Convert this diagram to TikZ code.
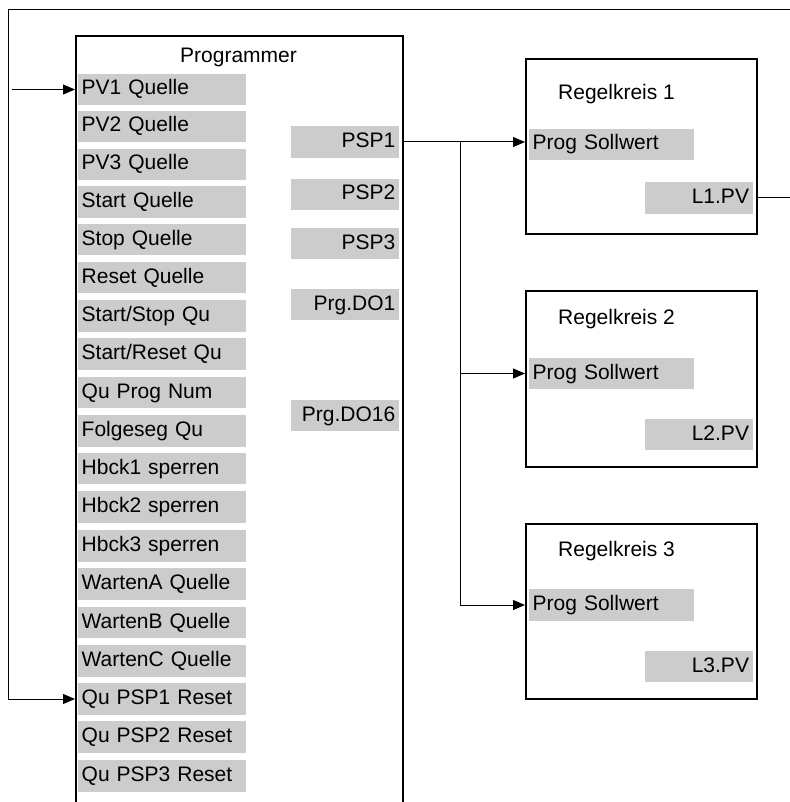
\documentclass[tikz,border=0pt]{standalone}
\usepackage{fontspec}
\setmainfont{Liberation Sans}
\usepackage{xcolor}
\usepackage{tikz}
\usetikzlibrary{arrows.meta, positioning}
\definecolor{cellgray}{RGB}{204,204,204}
\tikzset{
	cell/.style={fill=cellgray, minimum height=31.5pt, text height=15pt, text depth=4pt, inner xsep=3.5pt, inner ysep=0pt, font=\fontsize{21}{25}\selectfont},
	incell/.style={cell, anchor=west, text width=161pt, align=left},
	outcell/.style={cell, anchor=east, text width=101pt, align=right},
	setcell/.style={cell, anchor=west, text width=158pt, align=left},
	pvcell/.style={cell, anchor=east, text width=100.7pt, align=right},
	block/.style={draw, line width=2pt, anchor=north west, inner sep=0pt},
	head/.style={anchor=base, inner sep=0pt, font=\fontsize{21}{25}\selectfont},
	wire/.style={line width=1pt},
	sig/.style={wire, -{Triangle[length=12pt, width=10pt]}},
}

\begin{document}
\begin{tikzpicture}[x=1pt, y=-1pt]
				\useasboundingbox (0,0) rectangle (789,802);
				% Blocks and titles:
				\node[block, minimum width=327pt, minimum height=800pt](N0) at (75,35){};
				\node[head](T0) at (238.5,63){Programmer};
				\node[block, minimum width=230.7pt, minimum height=175pt](L1) at (525,58){};
				\node[block, minimum width=230.7pt, minimum height=176pt](L2) at (525,290){};
				\node[block, minimum width=230.7pt, minimum height=175pt](L3) at (525,522.5){};
				\node[head, anchor=base west](T1) at (558,100){Regelkreis 1};
				\node[head, anchor=base west](T2) at (558,324){Regelkreis 2};
				\node[head, anchor=base west](T3) at (558,556){Regelkreis 3};
				% Programmer inputs:
				\node[incell](I1) at (78,89.5){PV1 Quelle};
				\node[incell](I2) at (78,126.5){PV2 Quelle};
				\node[incell](I3) at (78,164.5){PV3 Quelle};
				\node[incell](I4) at (78,202){Start Quelle};
				\node[incell](I5) at (78,239.5){Stop Quelle};
				\node[incell](I6) at (78,277.5){Reset Quelle};
				\node[incell](I7) at (78,316){Start/Stop Qu};
				\node[incell](I8) at (78,354){Start/Reset Qu};
				\node[incell](I9) at (78,392.5){Qu Prog Num};
				\node[incell](I10) at (78,431){Folgeseg Qu};
				\node[incell](I11) at (78,468.5){Hbck1 sperren};
				\node[incell](I12) at (78,507){Hbck2 sperren};
				\node[incell](I13) at (78,546){Hbck3 sperren};
				\node[incell](I14) at (78,584){WartenA Quelle};
				\node[incell](I15) at (78,622.5){WartenB Quelle};
				\node[incell](I16) at (78,661){WartenC Quelle};
				\node[incell](I17) at (78,699){Qu PSP1 Reset};
				\node[incell](I18) at (78,737){Qu PSP2 Reset};
				\node[incell](I19) at (78,776){Qu PSP3 Reset};
				% Programmer outputs:
				\node[outcell](O1) at (399,142){PSP1};
				\node[outcell](O2) at (399,194.5){PSP2};
				\node[outcell](O3) at (399,243.5){PSP3};
				\node[outcell](O4) at (399,304.5){Prg.DO1};
				\node[outcell](O5) at (399,415.5){Prg.DO16};
				% Loop parameters:
				\node[setcell](S1) at (529,144.5){Prog Sollwert};
				\node[setcell](S2) at (529,373.5){Prog Sollwert};
				\node[setcell](S3) at (529,605){Prog Sollwert};
				\node[pvcell](P1) at (752.7,198){L1.PV};
				\node[pvcell](P2) at (752.7,434.5){L2.PV};
				\node[pvcell](P3) at (752.7,666.5){L3.PV};
				% Wires:
				\coordinate (B1) at (460,142);
				\coordinate (C1) at (790,10);
				\coordinate (C2) at (8,10);
				\coordinate (C3) at (12,89.5);
				\draw[sig] (O1 -| N0.east) -- (O1 -| L1.west);
				\draw[sig] (B1) |- (S2 -| L2.west);
				\draw[sig] (B1) |- (S3 -| L3.west);
				\draw[sig] (P1 -| L1.east) -| (C1) -- (C2) |- (I17 -| N0.west);
				\draw[sig] (C3) -- (I1 -| N0.west);
			\end{tikzpicture}
\end{document}
